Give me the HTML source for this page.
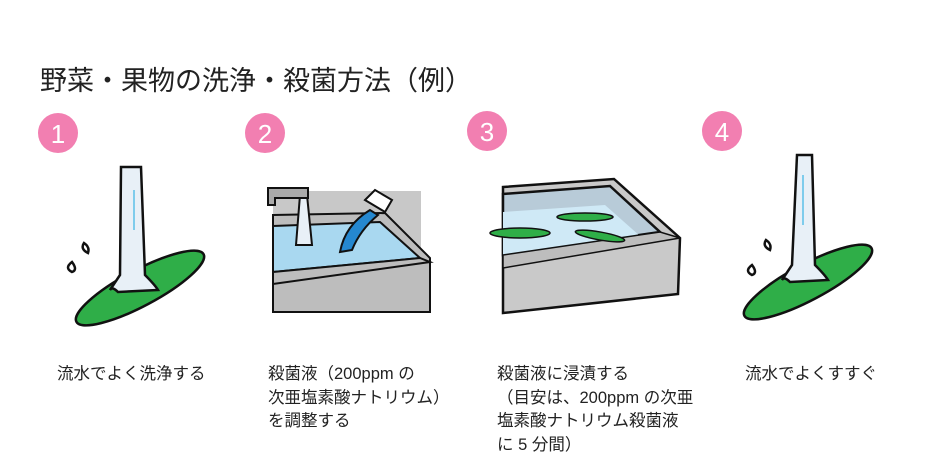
<!DOCTYPE html>
<html><head><meta charset="utf-8"><style>
html,body{margin:0;padding:0;background:#fff;}
body{width:940px;height:470px;overflow:hidden;position:relative;font-family:"Liberation Sans","Noto Sans CJK JP",sans-serif;}
.t{position:absolute;font-size:16.5px;line-height:23.5px;color:#222;white-space:nowrap;}
.title{position:absolute;left:40px;top:59px;font-size:27px;color:#222;white-space:nowrap;}
</style></head><body>
<div class="title">野菜・果物の洗浄・殺菌方法（例）</div>
<svg width="940" height="470" style="position:absolute;left:0;top:0">
<g font-family="Liberation Sans, sans-serif" font-size="26" fill="#fff" text-anchor="middle">
<circle cx="58" cy="133" r="20" fill="#f27fb1"/><text x="58" y="143">1</text>
<circle cx="265" cy="133" r="20" fill="#f27fb1"/><text x="265" y="143">2</text>
<circle cx="487" cy="131" r="20" fill="#f27fb1"/><text x="487" y="141">3</text>
<circle cx="722" cy="131" r="20" fill="#f27fb1"/><text x="722" y="141">4</text>
</g>
<!-- cucumber 1 -->
<g stroke="#111" stroke-width="2.5">
<ellipse cx="140" cy="288" rx="72" ry="18" transform="rotate(-28 140 288)" fill="#2fae48"/>
<path d="M121 167 L141 167 L145 275 Q155 285 158 290 L118 292 Q112 286 110 290 L120 275 Z" fill="#e8f0f7"/>
<path d="M72 262 q-8 6 0 10 q6 -2 0 -10z M84 243 q-4 6 4 10 q2 -6 -4 -10z" fill="#fff"/>
</g>
<line x1="134" y1="190" x2="134" y2="230" stroke="#5bc0e8" stroke-width="1.5"/>
<!-- cucumber 4 -->
<g stroke="#111" stroke-width="2.5">
<ellipse cx="808" cy="282" rx="72" ry="18" transform="rotate(-28 808 282)" fill="#2fae48"/>
<path d="M797 155 L812 155 L815 265 Q825 275 828 280 L790 282 Q784 276 782 280 L792 265 Z" fill="#e8f0f7"/>
<path d="M752 265 q-8 6 0 10 q6 -2 0 -10z M766 240 q-4 6 4 10 q2 -6 -4 -10z" fill="#fff"/>
</g>
<line x1="803" y1="175" x2="803" y2="225" stroke="#5bc0e8" stroke-width="1.5"/>
<!-- sink 2 -->
<g stroke="#111" stroke-width="2">
<rect x="273" y="191" width="148" height="120" fill="#c8c8c8" stroke="none"/>
<path d="M273 215 L385 213 L430 258 L430 312 L273 312 Z" fill="#bdbdbd"/>
<path d="M273 226 L380 222 L420 258 L273 272 Z" fill="#a9d8f0"/>
<path d="M273 272 L420 258 L430 262 L273 284 Z" fill="#bdbdbd"/>
<path d="M300 195 L296 245 L312 245 L307 195 Z" fill="#e8f0f7"/>
<path d="M268 188 L308 188 L308 198 L275 198 L275 205 L268 205 Z" fill="#aaa"/>
<path d="M365 200 L375 190 L392 200 L385 212 Z" fill="#fff"/>
<path d="M340 252 Q345 225 370 210 L378 215 Q360 230 352 250 Z" fill="#2588d0"/>
</g>
<!-- sink 3 -->
<g stroke="#111" stroke-width="2.5">
<path d="M503 187 L614 179 L680 238 L678 294 L503 313 Z" fill="#c9c9c9"/>
<path d="M503 194 L610 186 L660 232 L503 255 Z" fill="#b8cbd8"/>
<path d="M503 212 L605 205 L640 236 L503 255 Z" fill="#cfe9f6" stroke="none"/>
<path d="M503 255 L660 232 L680 238 L503 268 Z" fill="#bdbdbd" stroke-width="1.5"/>
<ellipse cx="585" cy="217" rx="28" ry="4" fill="#2fae48" stroke-width="1.5"/>
<ellipse cx="520" cy="233" rx="30" ry="5" fill="#2fae48" stroke-width="1.5"/>
<ellipse cx="600" cy="236" rx="25" ry="4" transform="rotate(10 600 236)" fill="#2fae48" stroke-width="1.5"/>
</g>
</svg>
<div class="t" style="left:57px;top:363px">流水でよく洗浄する</div>
<div class="t" style="left:268px;top:363px">殺菌液（200ppm の<br>次亜塩素酸ナトリウム）<br>を調整する</div>
<div class="t" style="left:497px;top:363px">殺菌液に浸漬する<br>（目安は、200ppm の次亜<br>塩素酸ナトリウム殺菌液<br>に 5 分間）</div>
<div class="t" style="left:745px;top:363px">流水でよくすすぐ</div>
</body></html>
